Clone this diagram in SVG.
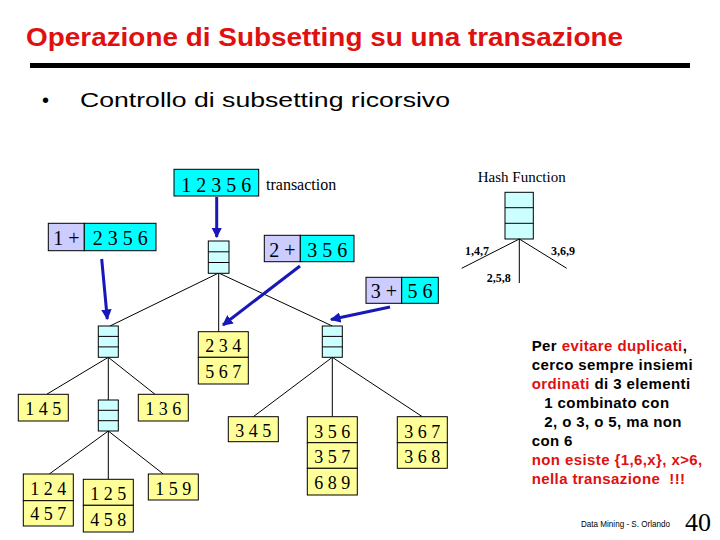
<svg xmlns="http://www.w3.org/2000/svg" width="720" height="540" viewBox="0 0 720 540">
<style>
.t{font-family:"Liberation Serif","Times New Roman",serif;fill:#000}
.s{font-family:"Liberation Sans",Arial,sans-serif}
.leaf{fill:#FFFF99;stroke:#000;stroke-width:1}
.hash{fill:#CCFFFF;stroke:#000;stroke-width:1}
.cy{fill:#00FFFF;stroke:#000;stroke-width:1}
.lv{fill:#CCCCFF;stroke:#000;stroke-width:1}
.ln{stroke:#000;stroke-width:1;fill:none}
.ar{stroke:#1818B8;stroke-width:3;fill:none;marker-end:url(#ah)}
.red{fill:#E01010}
</style>
<defs>
<marker id="ah" viewBox="0 0 10 10" refX="9" refY="5" markerWidth="3.5" markerHeight="3.5" orient="auto" markerUnits="strokeWidth">
<path d="M0,0 L10,5 L0,10 z" fill="#1818B8"/>
</marker>
</defs>
<rect width="720" height="540" fill="#fff"/>
<text class="s red" x="26" y="46" font-size="26" font-weight="bold" textLength="597" lengthAdjust="spacingAndGlyphs">Operazione di Subsetting su una transazione</text>
<rect x="30" y="63" width="660" height="5" fill="#000"/>
<text class="s" x="42" y="107" font-size="20">•</text>
<text class="s" x="80" y="107" font-size="21" textLength="370" lengthAdjust="spacingAndGlyphs">Controllo di subsetting ricorsivo</text>

<g id="connectors">
<line class="ln" x1="218.7" y1="273" x2="110" y2="326"/>
<line class="ln" x1="218.7" y1="273" x2="218.7" y2="331.7"/>
<line class="ln" x1="218.7" y1="273" x2="332.3" y2="326"/>
<line class="ln" x1="108.3" y1="357.3" x2="46.7" y2="394.3"/>
<line class="ln" x1="108.3" y1="357.3" x2="108.3" y2="400"/>
<line class="ln" x1="108.3" y1="357.3" x2="155" y2="394.3"/>
<line class="ln" x1="108.3" y1="431" x2="49.3" y2="474"/>
<line class="ln" x1="108.3" y1="431" x2="108.3" y2="479.3"/>
<line class="ln" x1="108.3" y1="431" x2="163.3" y2="474"/>
<line class="ln" x1="332.3" y1="357.3" x2="253.3" y2="416.7"/>
<line class="ln" x1="332.3" y1="357.3" x2="332.3" y2="416.7"/>
<line class="ln" x1="332.3" y1="357.3" x2="422.3" y2="416.7"/>
<line class="ar" x1="216.7" y1="197" x2="216.7" y2="237"/>
<line class="ar" x1="101.7" y1="259" x2="107.3" y2="319"/>
<line class="ar" x1="300" y1="266" x2="223" y2="325"/>
<line class="ar" x1="390" y1="307" x2="331" y2="319.5"/>
</g>

<g id="transaction">
<rect class="cy" x="174" y="169.3" width="84.7" height="26.7"/>
<text class="t" x="216.3" y="192" font-size="20" text-anchor="middle" xml:space="preserve">1 2 3 5 6</text>
<text class="t" x="266" y="190" font-size="16">transaction</text>
</g>

<g id="split1">
<rect class="lv" x="48.3" y="223.3" width="36" height="27.4"/>
<rect class="cy" x="84.3" y="223.3" width="71.7" height="27.4"/>
<text class="t" x="66.3" y="245" font-size="20" text-anchor="middle">1 +</text>
<text class="t" x="120.2" y="245" font-size="20" text-anchor="middle">2 3 5 6</text>
</g>
<g id="split2">
<rect class="lv" x="264.3" y="235.3" width="36" height="26.4"/>
<rect class="cy" x="300.3" y="235.3" width="53.7" height="26.4"/>
<text class="t" x="282.3" y="256.5" font-size="20" text-anchor="middle">2 +</text>
<text class="t" x="327.2" y="256.5" font-size="20" text-anchor="middle">3 5 6</text>
</g>
<g id="split3">
<rect class="lv" x="366" y="277.3" width="35.7" height="26"/>
<rect class="cy" x="401.7" y="277.3" width="36.6" height="26"/>
<text class="t" x="383.8" y="298" font-size="20" text-anchor="middle">3 +</text>
<text class="t" x="420" y="298" font-size="20" text-anchor="middle">5 6</text>
</g>

<g id="hash-root">
<rect class="hash" x="208.3" y="241" width="20.7" height="32.3"/>
<line class="ln" x1="208.3" y1="251.8" x2="229" y2="251.8"/>
<line class="ln" x1="208.3" y1="262.5" x2="229" y2="262.5"/>
</g>
<g id="hash-left">
<rect class="hash" x="98.3" y="326" width="20" height="31.3"/>
<line class="ln" x1="98.3" y1="336.4" x2="118.3" y2="336.4"/>
<line class="ln" x1="98.3" y1="346.9" x2="118.3" y2="346.9"/>
</g>
<g id="hash-left2">
<rect class="hash" x="98.3" y="400" width="20" height="31"/>
<line class="ln" x1="98.3" y1="410.3" x2="118.3" y2="410.3"/>
<line class="ln" x1="98.3" y1="420.7" x2="118.3" y2="420.7"/>
</g>
<g id="hash-right">
<rect class="hash" x="322.3" y="326" width="20" height="31.3"/>
<line class="ln" x1="322.3" y1="336.4" x2="342.3" y2="336.4"/>
<line class="ln" x1="322.3" y1="346.9" x2="342.3" y2="346.9"/>
</g>

<g id="leaf-234">
<rect class="leaf" x="198.3" y="331.7" width="50" height="25.6"/>
<rect class="leaf" x="198.3" y="357.3" width="50" height="26.7"/>
<text class="t" x="223.3" y="352" font-size="18" text-anchor="middle">2 3 4</text>
<text class="t" x="223.3" y="378" font-size="18" text-anchor="middle">5 6 7</text>
</g>
<g id="leaf-145">
<rect class="leaf" x="18.3" y="394.3" width="50" height="26.7"/>
<text class="t" x="43.3" y="415" font-size="18" text-anchor="middle">1 4 5</text>
</g>
<g id="leaf-136">
<rect class="leaf" x="138.3" y="394.3" width="50" height="26.7"/>
<text class="t" x="163.3" y="415" font-size="18" text-anchor="middle">1 3 6</text>
</g>
<g id="leaf-124">
<rect class="leaf" x="23.3" y="474" width="50" height="26.7"/>
<rect class="leaf" x="23.3" y="500.7" width="50" height="25.3"/>
<text class="t" x="48.3" y="494.5" font-size="18" text-anchor="middle">1 2 4</text>
<text class="t" x="48.3" y="520" font-size="18" text-anchor="middle">4 5 7</text>
</g>
<g id="leaf-125">
<rect class="leaf" x="83.3" y="479.3" width="50" height="26"/>
<rect class="leaf" x="83.3" y="505.3" width="50" height="26.7"/>
<text class="t" x="108.3" y="500" font-size="18" text-anchor="middle">1 2 5</text>
<text class="t" x="108.3" y="526" font-size="18" text-anchor="middle">4 5 8</text>
</g>
<g id="leaf-159">
<rect class="leaf" x="148.3" y="474" width="50" height="26"/>
<text class="t" x="173.3" y="494.5" font-size="18" text-anchor="middle">1 5 9</text>
</g>
<g id="leaf-345">
<rect class="leaf" x="228.3" y="416.7" width="50" height="25"/>
<text class="t" x="253.3" y="437" font-size="18" text-anchor="middle">3 4 5</text>
</g>
<g id="leaf-356">
<rect class="leaf" x="307.3" y="416.7" width="50" height="26"/>
<rect class="leaf" x="307.3" y="442.7" width="50" height="25.6"/>
<rect class="leaf" x="307.3" y="468.3" width="50" height="26.7"/>
<text class="t" x="332.3" y="437.5" font-size="18" text-anchor="middle">3 5 6</text>
<text class="t" x="332.3" y="463" font-size="18" text-anchor="middle">3 5 7</text>
<text class="t" x="332.3" y="489" font-size="18" text-anchor="middle">6 8 9</text>
</g>
<g id="leaf-367">
<rect class="leaf" x="397.3" y="416.7" width="50" height="26"/>
<rect class="leaf" x="397.3" y="442.7" width="50" height="25.6"/>
<text class="t" x="422.3" y="437.5" font-size="18" text-anchor="middle">3 6 7</text>
<text class="t" x="422.3" y="463" font-size="18" text-anchor="middle">3 6 8</text>
</g>

<g id="hash-legend">
<text class="t" x="521.7" y="182" font-size="15" text-anchor="middle">Hash Function</text>
<rect class="hash" x="505" y="192.3" width="28.3" height="46.7"/>
<line class="ln" x1="505" y1="207.7" x2="533.3" y2="207.7"/>
<line class="ln" x1="505" y1="223.3" x2="533.3" y2="223.3"/>
<line class="ln" x1="519.3" y1="239" x2="461.7" y2="268.3"/>
<line class="ln" x1="519.3" y1="239" x2="519.3" y2="283"/>
<line class="ln" x1="519.3" y1="239" x2="566.7" y2="268.3"/>
<text class="t" x="465" y="255" font-size="12" font-weight="bold">1,4,7</text>
<text class="t" x="551" y="255" font-size="12" font-weight="bold">3,6,9</text>
<text class="t" x="486.7" y="282" font-size="12" font-weight="bold">2,5,8</text>
</g>

<g id="note" class="s" font-size="15" font-weight="bold" letter-spacing="0.4">
<text x="531.7" y="351">Per <tspan class="red">evitare duplicati</tspan>,</text>
<text x="531.7" y="370">cerco sempre insiemi</text>
<text x="531.7" y="389"><tspan class="red">ordinati</tspan> di 3 elementi</text>
<text x="544.3" y="408">1 combinato con</text>
<text x="544.3" y="427">2, o 3, o 5, ma non</text>
<text x="531.7" y="446">con 6</text>
<text x="531.7" y="465" class="red">non esiste {1,6,x}, x&gt;6,</text>
<text x="531.7" y="484" class="red" xml:space="preserve">nella transazione  !!!</text>
</g>
<text class="s" x="581" y="527" font-size="9" textLength="89" lengthAdjust="spacingAndGlyphs">Data Mining - S. Orlando</text>
<text class="t" x="685" y="531" font-size="26">40</text>
</svg>
